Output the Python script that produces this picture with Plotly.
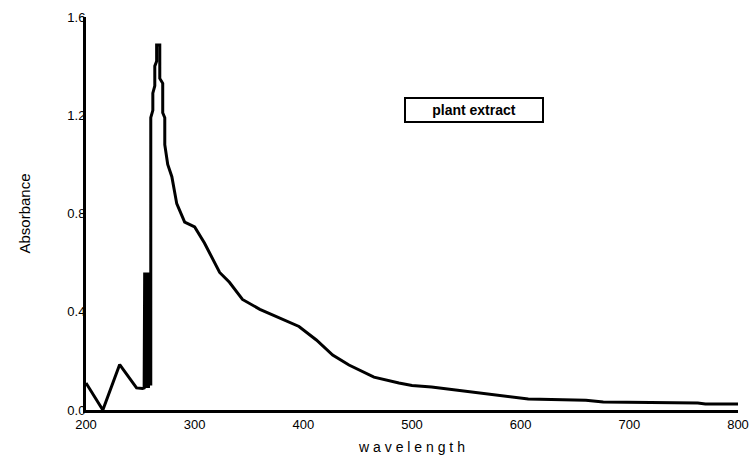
import plotly.graph_objects as go

wavelength = [200, 215.5, 231, 246.5, 252, 253.5,
              254, 254.5, 255, 255.5, 256, 256.5, 257, 257.5, 258, 258.5, 259, 259.3,
              259.6, 259.6, 261.5, 261.5, 263.3, 263.3, 265, 265, 267.9, 267.9,
              270.6, 270.6, 272.5, 272.5, 275.2, 279, 283.5, 290.8, 300, 309, 323,
              332, 344, 360, 376, 396, 412, 427, 442, 465, 488, 500, 518, 534, 548,
              563, 578, 595, 607, 660, 676, 763, 770, 800]
absorbance = [0.11, 0.0, 0.185, 0.09, 0.088, 0.09,
              0.56, 0.09, 0.56, 0.09, 0.56, 0.09, 0.56, 0.09, 0.56, 0.1, 0.56, 0.1,
              0.1, 1.19, 1.22, 1.29, 1.32, 1.40, 1.42, 1.486, 1.486, 1.35,
              1.33, 1.21, 1.19, 1.08, 1.0, 0.95, 0.84, 0.765, 0.745, 0.68, 0.56,
              0.52, 0.45, 0.41, 0.38, 0.34, 0.285, 0.224, 0.183, 0.134, 0.11, 0.10,
              0.094, 0.085, 0.077, 0.07, 0.061, 0.053, 0.045, 0.04, 0.033, 0.028,
              0.024, 0.024]

x_ticks = [200, 300, 400, 500, 600, 700, 800]
y_ticks = [0.0, 0.4, 0.8, 1.2, 1.6]
y_tick_text = ["0.0", "0.4", "0.8", "1.2", "1.6"]
legend_label = "plant extract"

font_family = "Liberation Sans, Arial, sans-serif"

fig = go.Figure()
fig.add_trace(go.Scatter(x=wavelength, y=absorbance, mode="lines",
                         line=dict(color="black", width=3), showlegend=False))

fig.update_layout(
    width=753, height=456,
    margin=dict(l=86, r=15, t=17, b=46),
    paper_bgcolor="white", plot_bgcolor="white",
    font=dict(family=font_family, color="black", size=13),
    xaxis=dict(range=[200, 800], tickvals=x_ticks, ticks="", showgrid=False,
               zeroline=False, showline=True, linecolor="black", linewidth=3,
               tickfont=dict(size=13), ticklabelstandoff=0, automargin=False,
               title=dict(text="w a v e l e n g t h", font=dict(size=14), standoff=12)),
    yaxis=dict(range=[0, 1.6], tickvals=y_ticks, ticktext=y_tick_text, ticks="",
               showgrid=False, zeroline=False, showline=True, linecolor="black",
               linewidth=3, tickfont=dict(size=13), ticklabelstandoff=-5,
               automargin=False,
               title=dict(text="Absorbance", font=dict(size=15), standoff=34)),
    annotations=[dict(x=557, y=1.22, xref="x", yref="y", text=legend_label,
                      showarrow=False, font=dict(size=14, color="black", weight="bold"),
                      width=132, height=18, align="center",
                      bordercolor="black", borderwidth=2, borderpad=2,
                      bgcolor="white")],
)

fig.write_html("out.html")
